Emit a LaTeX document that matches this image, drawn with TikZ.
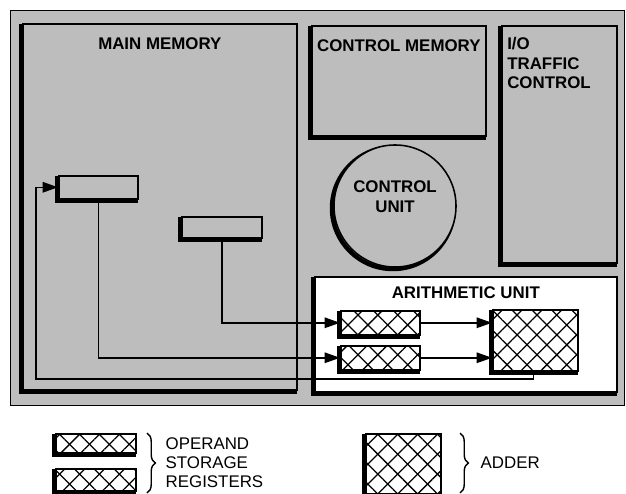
\documentclass[tikz,border=0pt]{standalone}
\usepackage{fontspec}
\setmainfont{Liberation Sans}
\usetikzlibrary{arrows.meta, positioning, patterns.meta, decorations.pathreplacing}

\definecolor{panelgray}{gray}{0.74}

\begin{document}
\begin{tikzpicture}[
    x=0.025cm, y=-0.025cm,
    box/.style={rectangle, draw=black, line width=1.1pt, fill=panelgray, inner sep=0pt},
    heavy/.style={preaction={draw=black, line width=3pt, transform canvas={shift={(-1.5pt,-1.5pt)}}}},
    hatch/.style={fill=white, postaction={pattern={Lines[angle=45, distance=10pt, line width=0.9pt]}}, postaction={pattern={Lines[angle=-45, distance=10pt, line width=0.9pt]}}},
    title/.style={font=\bfseries\fontsize{12}{14}\selectfont, inner sep=0pt, align=center},
    key/.style={font=\fontsize{12}{13.5}\selectfont, inner sep=0pt, align=left},
    link/.style={line width=1.1pt},
    arrow/.style={link, -{Triangle[length=11pt, width=7.5pt]}},
    brace/.style={decorate, decoration={brace, amplitude=6pt}, line width=1pt}
]
    \useasboundingbox (0,0) rectangle (626,494);

    % computer frame
    \node[box, line width=0.8pt, minimum width=15.35cm, minimum height=9.875cm, anchor=north west] (computer) at (10,10) {};

    % memories and control
    \node[box, heavy, minimum width=6.85cm, minimum height=9.15cm, anchor=north west] (mainmem) at (22,23) {};
    \node[title, below=0.35cm of mainmem.north] (mainmemtxt) {MAIN MEMORY};
    \node[box, heavy, minimum width=4.35cm, minimum height=2.75cm, anchor=north west] (ctrlmem) at (311,25) {};
    \node[title, below=0.35cm of ctrlmem.north] (ctrlmemtxt) {CONTROL MEMORY};
    \node[box, heavy, minimum width=2.875cm, minimum height=5.925cm, anchor=north west] (iotc) at (501,25) {};
    \node[title, align=left, below right=0.3cm and 0.15cm of iotc.north west] (iotctxt) {I/O\\TRAFFIC\\CONTROL};
    \node[box, heavy, circle, minimum size=3.05cm] (ctrlunit) at (395,206) {};
    \node[title] (ctrlunittxt) at ([yshift=0.24cm]ctrlunit.center) {CONTROL\\UNIT};

    % arithmetic unit
    \node[box, heavy, fill=white, minimum width=7.55cm, minimum height=2.875cm, anchor=north west] (arith) at (314,276) {};
    \node[title, below=0.25cm of arith.north] (arithtxt) {ARITHMETIC UNIT};
    \node[box, heavy, hatch, minimum width=1.975cm, minimum height=0.6cm, anchor=north west] (opA) at (340,310) {};
    \node[box, heavy, hatch, minimum width=1.975cm, minimum height=0.6cm, anchor=north west] (opB) at (340,345) {};
    \node[box, heavy, hatch, minimum width=2.125cm, minimum height=1.525cm, anchor=north west] (adder) at (492,309) {};

    % memory words
    \node[box, heavy, minimum width=1.975cm, minimum height=0.575cm, anchor=north west] (memA) at (58,175) {};
    \node[box, heavy, minimum width=2cm, minimum height=0.525cm, anchor=north west] (memB) at (181,216) {};

    \draw[arrow] (memB) |- (opA);
    \draw[arrow] (memA) |- (opB);
    \draw[arrow] (opA) -- (opA -| adder.west);
    \draw[arrow] (opB) -- (opB -| adder.west);
    \coordinate (loop) at (36,379);
    \draw[arrow] ([xshift=-0.05cm]adder.south) |- (loop) |- (memA);

    % key
    \node[box, heavy, hatch, minimum width=2cm, minimum height=0.475cm, anchor=north west] (keyopA) at (55,433) {};
    \node[box, heavy, hatch, minimum width=2cm, minimum height=0.55cm, anchor=north west] (keyopB) at (55,468) {};
    \draw[brace] (147,433) -- (147,493) node[midway, right=0.45cm, key] (keyoptxt) {OPERAND\\STORAGE\\REGISTERS};
    \node[box, heavy, hatch, minimum width=1.875cm, minimum height=1.5cm, anchor=north west] (keyadder) at (365,433) {};
    \draw[brace] (460,433) -- (460,493) node[midway, right=0.5cm, key] (keyaddertxt) {ADDER};
\end{tikzpicture}
\end{document}
